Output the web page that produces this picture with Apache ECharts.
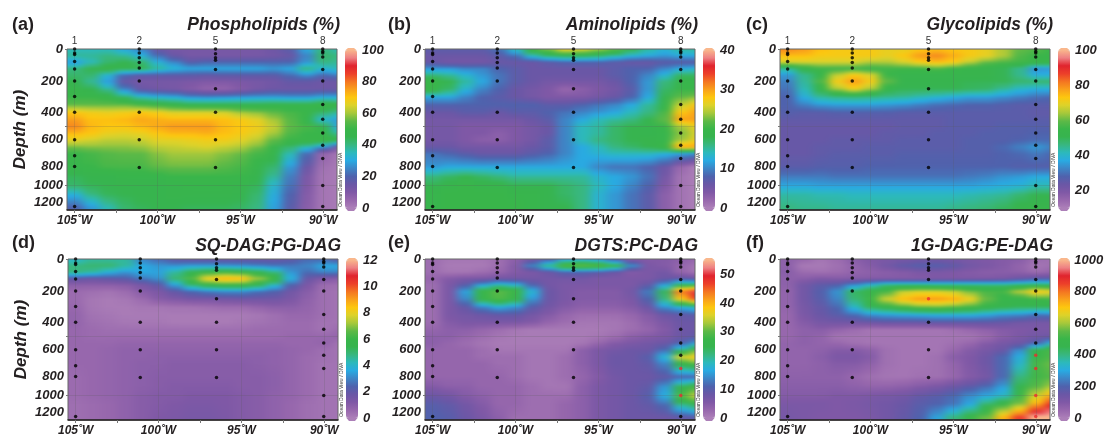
<!DOCTYPE html>
<html><head><meta charset="utf-8">
<script src="https://cdn.jsdelivr.net/npm/echarts@6/dist/echarts.min.js"></script>
<style>
html,body{margin:0;padding:0;background:#fff;}
#field,#chart{position:absolute;left:0;top:0;width:1104px;height:437px;}
</style></head><body>
<svg width="0" height="0" style="position:absolute"><filter id="soft" x="0" y="0" width="100%" height="100%" color-interpolation-filters="sRGB"><feGaussianBlur stdDeviation="5 1"/></filter></svg>
<div id="field"></div><div id="chart"></div>
<script>
const palette=['#ac7fb8','#9767ad','#7f58a6','#6a57a6','#4f62ad','#3e85c6','#29aae2','#2cb9bc','#38b780','#37b44f','#39b54a','#5db947','#a6c83b','#dcd22a','#fdc70f','#f9a01b','#f47521','#ec3f2a','#e0242e','#ee8083','#f9b78c'];
const lonCols=[-105,-104,-103,-102,-101,-100,-99,-98,-97,-96,-95,-94,-93,-92,-91,-90,-89];
const depthRows=[0,40,80,120,160,200,250,300,350,400,450,500,550,600,650,700,800,900,1000,1100,1250];
// depth axis of the reference is non linear: depth -> distance from the top of the plot
const depthScaleD=[0,200,400,500,600,800,1000,1250,1300];
const depthScaleP=[0,32,63.2,77.2,90.8,117.5,136.5,157.5,161];
const depthTicks=[0,200,400,600,800,1000,1200];
const lonTicks=[-105,-100,-95,-90];
const stationNames=['1','2','5','8'];
const stationLon=[-105,-101.1,-96.5,-90.03];
const stationDepths=[[0,25,35,78,125,200,300,400,600,720,800,1250],[0,25,55,85,118,200,400,600,810],[0,30,55,70,128,250,400,600,810],[0,15,25,50,128,200,350,450,550,640,740,1000,1250]];
const redDotsE=[[3,740],[3,1000]];
const redDotsF=[[2,250],[3,640],[3,740],[3,1000],[3,1250]];

const phospholipids=[
[35,35,35,30,25,15,12,12,12,12,12,12,14,18,30,40,35],
[38,38,40,38,32,22,15,12,12,12,12,12,13,15,25,42,40],
[28,35,42,45,42,32,25,18,20,20,20,20,20,20,27,40,38],
[40,45,48,45,45,38,33,30,30,30,30,30,28,30,40,33,35],
[42,42,33,22,18,18,18,18,17,18,18,18,18,22,27,22,25],
[45,38,28,15,12,12,12,11,10,10,11,12,13,16,16,14,14],
[48,45,38,25,15,13,12,9,6,6,9,12,14,14,14,14,14],
[50,50,48,42,35,32,30,26,25,26,27,28,28,27,27,30,30],
[55,55,55,55,52,50,48,46,46,46,46,46,47,47,47,50,48],
[70,68,67,68,70,68,65,65,65,64,60,58,55,52,50,42,38],
[75,71,71,72,74,73,72,72,72,71,69,66,60,54,48,33,28],
[78,72,70,70,72,74,76,76,76,72,70,68,63,55,52,45,30],
[72,70,67,66,67,70,72,72,73,71,69,66,60,53,50,50,38],
[66,64,62,62,63,66,66,67,68,68,66,62,55,50,50,50,48],
[57,58,58,58,59,62,63,64,65,63,61,57,50,42,36,28,12],
[50,52,54,55,55,58,60,60,60,58,56,52,48,36,22,6,2],
[48,50,52,52,52,55,56,56,56,54,52,48,42,28,15,3,1],
[44,46,46,48,48,48,50,50,50,50,50,46,38,24,11,2,1],
[42,44,45,46,46,46,47,48,48,48,47,44,33,22,10,2,1],
[32,40,44,45,46,46,47,47,47,47,46,42,31,20,9,2,1],
[20,28,36,42,44,45,45,44,44,44,43,40,29,18,8,2,1]];
const aminolipids=[
[7,7,7,7,9,14,20,23,27,26,24,22,18,15,13,15,15],
[6,6,6,6,7,9,14,17,18,18,17,15,13,12,11,12,12],
[6,5,5,5,6,6,6,7,8,8,8,7,6,6,7,7,7],
[11,11,10,10,8,7,6,6,6,6,6,7,8,8,10,12,13],
[16,15,13,11,9,7,6,6,6,6,6,7,8,10,13,17,17],
[20,18,15,12,9,7,6,5,5,5,5,6,8,11,16,19,19],
[20,17,13,10,8,6,5,4,2,3,4,5,7,11,17,20,20],
[12,12,10,8,7,6,5,4,4,4,5,6,8,12,18,22,23],
[8,8,8,8,8,8,8,7,7,8,9,10,12,15,19,25,28],
[6,6,7,7,6,7,7,8,9,10,11,12,14,16,21,28,30],
[5,5,5,5,5,5,6,7,10,12,14,15,16,18,22,30,30],
[5,5,4,4,4,4,5,6,10,14,15,17,18,18,20,24,27],
[5,5,4,4,3,4,5,6,10,14,15,17,18,18,19,23,26],
[5,5,4,3,3,4,5,7,10,14,16,17,18,19,19,24,27],
[6,6,5,5,5,5,6,7,10,12,14,16,17,18,20,30,30],
[9,8,7,6,6,6,7,8,10,12,13,14,14,14,13,12,11],
[11,12,12,12,12,12,12,12,12,12,10,9,9,8,6,2,0],
[16,17,18,17,16,15,15,15,15,15,13,12,11,9,5,1,0],
[18,19,20,19,19,18,18,18,17,16,14,12,10,8,4,1,0],
[19,20,20,20,20,19,19,18,17,16,13,11,9,7,3,1,0],
[19,20,20,20,20,20,19,18,18,16,13,11,9,7,3,1,0]];
const glycolipids=[
[80,78,74,72,72,72,70,70,73,74,73,72,70,65,60,58,55],
[74,74,72,72,72,72,70,73,78,80,76,72,70,65,58,55,55],
[68,68,68,68,68,65,65,68,72,74,72,66,60,58,56,55,54],
[45,52,56,56,56,55,56,56,56,58,55,53,52,50,45,34,35],
[35,45,54,66,72,68,55,52,52,52,52,52,52,50,45,38,38],
[32,44,58,72,78,72,60,51,51,51,51,50,50,50,48,48,48],
[30,42,52,64,70,64,52,50,50,50,50,49,48,44,40,38,38],
[28,38,44,46,47,46,45,44,42,40,38,36,36,34,32,30,29],
[28,32,35,36,36,36,35,34,32,30,29,28,28,27,26,26,26],
[27,26,26,27,27,27,27,26,26,26,26,26,26,26,26,25,25],
[25,25,25,25,25,25,25,25,25,25,26,26,26,26,26,26,26],
[24,24,24,24,24,24,24,25,25,25,26,26,26,27,27,27,27],
[24,24,24,24,24,24,25,25,25,26,26,26,27,27,27,28,28],
[24,24,24,25,25,25,25,26,26,26,26,27,27,27,28,29,29],
[24,24,25,25,25,26,26,26,26,26,26,27,27,29,32,35,32],
[24,24,25,26,26,26,26,27,27,27,27,27,27,28,29,31,29],
[26,26,27,27,27,28,28,28,28,28,28,28,28,28,27,27,27],
[31,31,31,30,30,30,30,30,30,30,30,31,32,34,35,37,37],
[37,37,36,36,36,36,36,36,36,36,36,36,37,38,39,42,42],
[43,43,42,42,41,41,41,41,41,41,41,42,43,44,47,50,50],
[46,45,45,44,44,44,44,44,44,44,45,46,47,49,52,53,53]];
const sqdagPgdag=[
[4,4.5,4.5,4.5,3,2.5,2,1.8,1.8,1.8,1.8,1.8,1.8,2,2.5,2.5,2],
[4.8,5,5,4.5,3.6,3.3,3.2,3.4,3.4,3.3,3.2,3,2.8,2.8,3,3.6,3.6],
[4.8,4.5,3.8,3.3,3.6,3.5,4.5,5.5,6,6.2,6,5.6,4.8,3.3,2.6,3,3],
[2,1.8,2,2.2,2.8,3.2,5,6.5,8.2,8.8,8.6,7.2,6,3.8,1.8,1.2,1],
[.9,.9,.9,1,1.4,2,3.5,5,5.8,6,6,5.5,4.2,2.4,1.3,.5,.4],
[.5,.4,.3,.5,1,1.3,2,2.6,3,3.2,3.2,2.8,2.4,1.6,1,.4,.3],
[.5,.2,.1,.2,.5,1,1.2,1.4,1.4,1.5,1.6,1.6,1.6,1.3,.8,.4,.3],
[.6,.2,.1,.1,.2,.2,.3,.3,.4,.5,.5,.7,.9,.9,.7,.4,.3],
[.7,.3,.2,.1,.1,.1,.1,.1,.1,.1,.1,.2,.4,.6,.6,.4,.3],
[.7,.4,.3,.2,.2,.2,.1,.1,.1,.1,.2,.3,.4,.5,.5,.3,.3],
[.6,.5,.4,.4,.4,.4,.4,.4,.4,.4,.4,.5,.5,.5,.5,.3,.5],
[.6,.5,.5,.5,.5,.5,.5,.5,.5,.5,.5,.5,.5,.6,.6,.6,.7],
[.6,.6,.6,.7,.7,.7,.7,.7,.7,.7,.7,.7,.7,.6,.6,.7,.3],
[.6,.6,.7,.8,.8,.8,.8,.8,.8,.8,.8,.8,.8,.7,.6,.4,.3],
[.6,.6,.7,.8,.8,.9,.9,.9,.9,.9,.9,.9,.8,.7,.5,.4,.3],
[.6,.6,.7,.8,.9,.9,1,1,1,1,1,.9,.8,.7,.5,.3,.3],
[.5,.6,.7,.8,.9,1,1,1,1,1,1,1,.9,.7,.5,.3,.3],
[.5,.6,.7,.8,.9,1,1.1,1.1,1.1,1.1,1,1,.9,.7,.5,.3,.3],
[.5,.6,.7,.8,1,1.1,1.1,1.2,1.2,1.2,1.1,1,.8,.7,.5,.3,.3],
[.4,.5,.6,.8,1,1.1,1.2,1.3,1.3,1.2,1.1,1,.8,.6,.4,.3,.3],
[.4,.5,.6,.8,1,1.2,1.3,1.4,1.4,1.3,1.1,1,.8,.6,.4,.3,.3]];
const dgtsPcdag=[
[2,1,1,1,2,4,7,10,16,17,15,10,5,5,5,4,3],
[2,.5,.5,.5,2,5,14,22,30,31,30,26,15,6,5,3,1],
[2,1,1,2,3,5,6,8,11,11,10,8,5,6,7,3,1],
[3,5,6,6,7,7,7,7,7,7,6,6,6,6,8,9,8],
[2,6,10,16,20,18,11,7,6,6,6,6,6,9,16,25,25],
[2,6,16,27,30,28,18,8,6,5,5,5,7,13,24,44,51],
[2,6,14,26,29,26,15,8,6,5,5,5,6,11,22,38,46],
[2,6,9,14,17,15,10,7,5,4,4,4,5,8,15,18,20],
[2,6,7,8,9,9,7,5,3,2,2,2,3,5,8,9,10],
[2,5,6,6,6,6,5,3,2,1,1,1,2,4,6,8,8],
[3,4,4,3,2,1,.5,.5,.5,.5,.5,1,2,3,5,8,8],
[4,4,3,2,1,.5,.5,.5,.5,.5,1,2,4,5,6,8,9],
[4,3,2,1,.5,.5,.5,.5,.5,1,3,5,6,7,8,11,16],
[3,3,3,2,1,1,1,1,1,4,6,7,8,8,12,22,30],
[3,3,3,2,2,2,1,1,2,4,6,8,8,10,18,36,38],
[3,3,3,3,2,2,1,1,2,4,6,8,8,9,14,27,30],
[3,3,3,3,3,2,1,1,2,3,5,7,8,8,9,11,11],
[5,4,4,3,3,3,2,1,1,4,6,7,8,9,15,24,28],
[8,7,5,4,3,3,2,2,2,4,6,7,8,10,17,30,35],
[10,9,7,5,3,3,2,2,3,4,6,7,8,9,12,22,26],
[11,10,8,6,4,2,2,2,3,4,6,7,8,8,8,9,10]];
const gdagPedag=[
[70,50,20,40,80,100,110,120,130,130,120,110,100,90,80,40,30],
[70,10,10,30,60,90,130,170,190,190,170,130,110,90,60,20,30],
[80,40,30,40,60,70,80,90,110,110,100,90,80,80,70,40,60],
[70,80,100,90,90,90,90,90,90,100,100,100,100,110,140,170,170],
[70,130,170,190,260,330,400,410,410,400,400,400,400,400,420,440,430],
[60,130,190,270,430,490,520,620,640,640,620,560,520,520,620,700,670],
[60,130,180,250,410,510,640,720,760,760,740,680,560,480,480,510,520],
[60,120,160,210,340,440,480,520,560,570,550,520,480,460,440,440,440],
[50,110,150,180,220,270,290,300,310,320,320,320,300,270,260,230,240],
[50,90,120,130,130,140,150,150,150,160,160,160,160,150,130,120,120],
[50,70,80,60,40,20,20,20,20,20,30,50,70,90,100,110,110],
[50,70,60,20,20,20,20,20,20,20,20,20,40,80,110,130,140],
[60,70,60,50,30,20,20,20,20,20,30,50,90,120,140,200,330],
[60,60,70,90,90,70,30,20,20,20,50,90,120,150,260,470,520],
[60,60,80,110,110,90,30,20,20,30,80,100,140,210,310,500,530],
[60,60,70,90,90,70,30,20,20,30,60,100,140,210,330,520,560],
[70,70,70,70,50,30,20,20,30,30,50,90,120,210,400,510,540],
[80,80,80,80,70,60,60,70,90,110,140,170,210,280,450,540,600],
[90,90,90,100,100,110,120,130,160,180,210,260,300,340,510,640,740],
[110,110,110,100,110,120,130,150,180,200,230,300,420,500,580,740,880],
[120,110,100,100,100,110,130,160,200,290,400,480,560,720,860,1000,1000]];

const panels=[
{tag:'(a)',title:'Phospholipids (%)',grid:phospholipids,min:0,max:100,ticks:[0,20,40,60,80,100],x:67,y:49,tagX:12,red:[],depth:true},
{tag:'(b)',title:'Aminolipids (%)',grid:aminolipids,min:0,max:40,ticks:[0,10,20,30,40],x:425,y:49,tagX:388,red:[]},
{tag:'(c)',title:'Glycolipids (%)',grid:glycolipids,min:10,max:100,ticks:[20,40,60,80,100],x:780,y:49,tagX:746,red:[]},
{tag:'(d)',title:'SQ-DAG:PG-DAG',grid:sqdagPgdag,min:0,max:12,ticks:[0,2,4,6,8,10,12],x:68,y:259,tagX:12,red:[],depth:true},
{tag:'(e)',title:'DGTS:PC-DAG',grid:dgtsPcdag,min:0,max:55,ticks:[0,10,20,30,40,50],x:425,y:259,tagX:388,red:redDotsE},
{tag:'(f)',title:'1G-DAG:PE-DAG',grid:gdagPedag,min:0,max:1000,ticks:[0,200,400,600,800,1000],x:780,y:259,tagX:746,red:redDotsF}
];
const PW=270,PH=161,LONL=-105.46,LONR=-89.17;
const FONT='"Liberation Sans",Arial,sans-serif';
function depthPos(d){
  for(let i=1;i<depthScaleD.length;i++){
    if(d<=depthScaleD[i]){
      const f=(d-depthScaleD[i-1])/(depthScaleD[i]-depthScaleD[i-1]);
      return depthScaleP[i-1]+f*(depthScaleP[i]-depthScaleP[i-1]);
    }
  }
  return depthScaleP[depthScaleP.length-1];
}
function tint(v,p){return echarts.color.lerp(Math.max(0,Math.min(1,(v-p.min)/(p.max-p.min))),palette);}

/* ---------- the colour field (lower layer) ---------- */
const fieldChart=echarts.init(document.getElementById('field'),null,{renderer:'canvas'});
const fo={animation:false,grid:[],xAxis:[],yAxis:[],series:[]};
panels.forEach((p,k)=>{
  fo.grid.push({left:p.x,top:p.y,width:PW,height:PH});
  fo.xAxis.push({type:'value',gridIndex:k,min:LONL,max:LONR,show:false});
  fo.yAxis.push({type:'value',gridIndex:k,min:0,max:PH,inverse:true,show:false});
  const data=[];
  p.grid.forEach((row,r)=>{
    const next=p.grid[r+1]||row;
    row.forEach((v,c)=>{
      const p0=depthPos(depthRows[r]);
      const p1=r+1<depthRows.length?depthPos(depthRows[r+1]):PH+20;
      data.push([lonCols[c],p0,p1,v,next[c],r]);
    });
  });
  fo.series.push({type:'custom',xAxisIndex:k,yAxisIndex:k,clip:false,silent:true,
    encode:{x:0,y:1},data,
    renderItem(params,api){
      const lon=api.value(0),p0=api.value(1),p1=api.value(2),v0=api.value(3),v1=api.value(4),r=api.value(5);
      const a=api.coord([lon-.5,p0]),b=api.coord([lon+.5,p1]);
      let x=a[0],w=b[0]-a[0]+1;
      if(lon===lonCols[0]){x-=25;w+=25;}
      if(lon===lonCols[lonCols.length-1]){w+=25;}
      const stops=[];
      for(let i=0;i<=6;i++){stops.push({offset:i/6,color:tint(v0+(v1-v0)*i/6,p)});}
      const cell={type:'rect',shape:{x,y:a[1],width:w,height:b[1]-a[1]+1},
        style:{fill:new echarts.graphic.LinearGradient(0,0,0,1,stops)}};
      if(r===0){
        return {type:'group',children:[cell,{type:'rect',shape:{x,y:a[1]-20,width:w,height:20.5},style:{fill:tint(v0,p)}}]};
      }
      return cell;
    }});
});
fieldChart.setOption(fo);
const fieldEl=document.getElementById('field');
fieldEl.style.filter='url(#soft)';
fieldEl.style.clipPath='path("'+panels.map(p=>`M${p.x} ${p.y}H${p.x+PW}V${p.y+PH}H${p.x}Z`).join(' ')+'")';

/* ---------- axes, dots, colour bars, text (upper layer) ---------- */
const chart=echarts.init(document.getElementById('chart'),null,{renderer:'canvas'});
const labelStyle={fontFamily:FONT,fontWeight:'bold',fontStyle:'italic',color:'#231f20'};
const opt={animation:false,backgroundColor:'transparent',title:[],grid:[],xAxis:[],yAxis:[],series:[],visualMap:[],graphic:[]};
panels.forEach((p,k)=>{
  const top=k<3,barX=p.x+PW+8;
  const gi=opt.grid.length;
  opt.grid.push({left:p.x,top:p.y,width:PW,height:PH,show:true,borderColor:'#666',borderWidth:1,backgroundColor:'transparent'});
  const xi=opt.xAxis.length;
  opt.xAxis.push({type:'value',gridIndex:gi,min:LONL,max:LONR,position:'bottom',
    axisLine:{show:true,onZero:false,lineStyle:{color:'#231f20',width:1.5}},splitLine:{show:false},
    axisTick:{show:true,length:3,customValues:[-105,-102.5,-100,-97.5,-95,-92.5,-90],lineStyle:{color:'#777'}},
    axisLabel:{...labelStyle,fontSize:12,margin:5,customValues:lonTicks,formatter:v=>Math.abs(v)+'˚W'}});
  if(top){
    opt.xAxis.push({type:'value',gridIndex:gi,min:LONL,max:LONR,position:'top',
      axisLine:{show:false},axisTick:{show:false},splitLine:{show:false},
      axisLabel:{fontFamily:FONT,fontSize:10,color:'#333',margin:3,customValues:stationLon,
        formatter:v=>stationNames[stationLon.indexOf(v)]}});
  }
  const yi=opt.yAxis.length;
  opt.yAxis.push({type:'value',gridIndex:gi,min:0,max:PH,inverse:true,position:'left',
    name:p.depth?'Depth (m)':'',nameLocation:'middle',nameGap:38,nameRotate:90,
    nameTextStyle:{...labelStyle,fontSize:17},
    axisLine:{show:false},splitLine:{show:false},
    axisTick:{show:true,length:2,customValues:[0,500,1000].map(depthPos),lineStyle:{color:'#777'}},
    axisLabel:{...labelStyle,fontSize:13,margin:4,padding:[2,0,0,0],customValues:depthTicks.map(depthPos),
      formatter:v=>{let best=0;depthTicks.forEach(d=>{if(Math.abs(depthPos(d)-v)<Math.abs(depthPos(best)-v))best=d;});return String(best);}}});
  const dots=[];
  stationLon.forEach((lon,s)=>stationDepths[s].forEach(d=>{
    const red=p.red.some(q=>q[0]===s&&q[1]===d);
    dots.push({value:[lon,depthPos(d)],itemStyle:{color:red?'#ee2a2e':'#000'}});
  }));
  opt.series.push({type:'scatter',xAxisIndex:xi,yAxisIndex:yi,symbolSize:3.5,silent:true,data:dots,z:5,
    markLine:{silent:true,symbol:['none','none'],animation:false,label:{show:false},
      lineStyle:{color:'rgba(90,90,90,0.25)',width:0.8,type:'solid'},
      data:[...lonTicks.map(v=>({xAxis:v})),{yAxis:depthPos(500)},{yAxis:depthPos(1000)}]}});
  // colour bar
  const by=top?50:260,bh=158;
  opt.visualMap.push({type:'continuous',seriesIndex:[],min:p.min,max:p.max,left:barX,top:by,itemWidth:12,itemHeight:bh,
    padding:0,calculable:false,hoverLink:false,inRange:{color:palette},text:null,showLabel:false});
  const bi=opt.grid.length;
  opt.grid.push({left:barX+12,top:by,width:1,height:bh});
  opt.xAxis.push({type:'value',gridIndex:bi,show:false,min:0,max:1});
  opt.yAxis.push({type:'value',gridIndex:bi,min:p.min,max:p.max,position:'right',
    axisLine:{show:false},axisTick:{show:false},splitLine:{show:false},
    axisLabel:{...labelStyle,fontSize:13,margin:4,customValues:p.ticks,formatter:v=>String(v)}});
  opt.graphic.push(
    {type:'polygon',silent:true,shape:{points:[[barX,by+.5],[barX+3,by-2],[barX+9,by-2],[barX+12,by+.5]]},style:{fill:palette[20]}},
    {type:'polygon',silent:true,shape:{points:[[barX,by+bh-.5],[barX+3,by+bh+3],[barX+9,by+bh+3],[barX+12,by+bh-.5]]},style:{fill:palette[0]}},
    {type:'text',silent:true,rotation:Math.PI/2,x:p.x+PW+3.5,y:p.y+PH-3,
      style:{text:'Ocean Data View / DIVA',font:'5px '+FONT,fill:'#333',textAlign:'left',textVerticalAlign:'middle'}}
  );
  opt.title.push(
    {text:p.title,right:1104-(p.x+PW+3),top:p.y-(top?33:22),padding:0,
      textStyle:{...labelStyle,fontSize:17.5}},
    {text:p.tag,left:p.tagX,top:p.y-(top?33:25),padding:0,
      textStyle:{fontFamily:FONT,fontWeight:'bold',color:'#231f20',fontSize:18}}
  );
});
chart.setOption(opt);
</script></body></html>
